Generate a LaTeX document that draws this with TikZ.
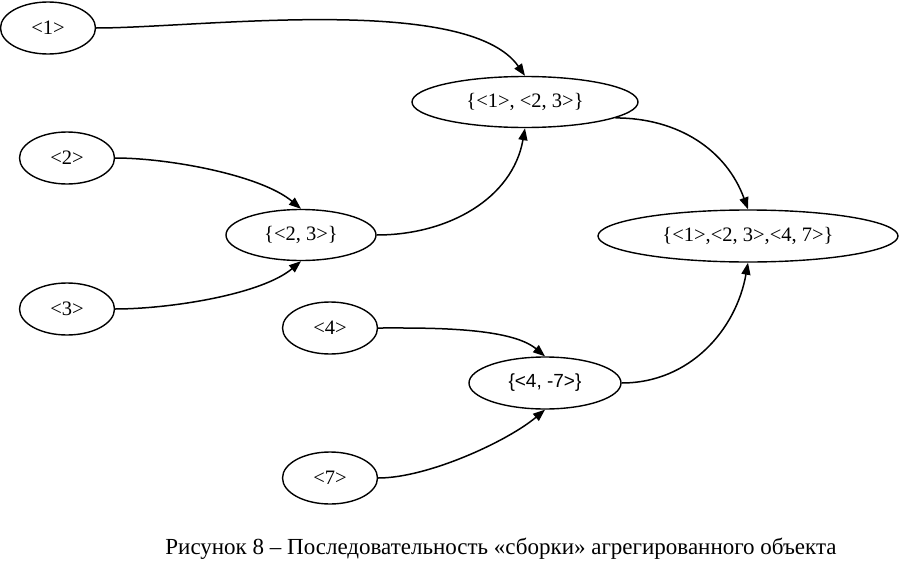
\documentclass[tikz,border=0pt]{standalone}
\usepackage{fontspec}
\setmainfont{Liberation Serif}
\newfontfamily\arialfont{Liberation Sans}
\usepackage{tikz}
\usetikzlibrary{arrows.meta,shapes.geometric}

\begin{document}
\begin{tikzpicture}[
    x=1pt, y=-1pt,
    font=\fontsize{20.5}{24}\selectfont,
    elem/.style={draw, ellipse, line width=1.4pt, inner sep=0pt,
                 minimum width=#1, minimum height=52pt},
    elem/.default=95pt,
    arr/.style={-{Triangle[length=12pt,width=9pt]}, line width=1.5pt}
]
\useasboundingbox (0,0) rectangle (902,562);

%% SINGLE ELEMENTS
\node[elem] (e1) at (48,28)  {<1>};
\node[elem] (e2) at (67,158) {<2>};
\node[elem] (e3) at (67,309) {<3>};
\node[elem] (e4) at (330,328) {<4>};
\node[elem] (e7) at (330,478) {<7>};

%% AGGREGATES
\node[elem=150pt, minimum height=51pt] (a23) at (301,235) {\{<2, 3>\}};
\node[elem=226pt, minimum height=51pt] (a123) at (525,102) {\{<1>, <2, 3>\}};
\node[elem=152pt] (a47) at (545,383)
    {\arialfont\fontsize{19}{22}\selectfont\{<4, -7>\}};
\node[elem=300pt] (aall) at (748,236) {\{<1>,<2, 3>,<4, 7>\}};

%% ARROWS
\draw[arr] (e1.east) to[out=0, in=125, looseness=0.6] (a123.north);
\draw[arr] (e2.east) to[out=0, in=140, looseness=0.7] (a23.north);
\draw[arr] (e3.east) to[out=0, in=-140, looseness=0.7] (a23.south);
\draw[arr] (a23.east) to[out=0, in=-100] (a123.south);
\draw[arr] (a123.-10) to[out=0, in=110] (aall.north);
\draw[arr] (e4.east) to[out=0, in=140, looseness=0.7] (a47.north);
\draw[arr] (e7.east) to[out=0, in=-140, looseness=0.7] (a47.south);
\draw[arr] (a47.east) to[out=0, in=-100] (aall.south);

%% CAPTION
\node[font=\fontsize{23}{27}\selectfont] (cap) at (501,549)
    {Рисунок 8 -- Последовательность «сборки» агрегированного объекта};

\end{tikzpicture}
\end{document}
